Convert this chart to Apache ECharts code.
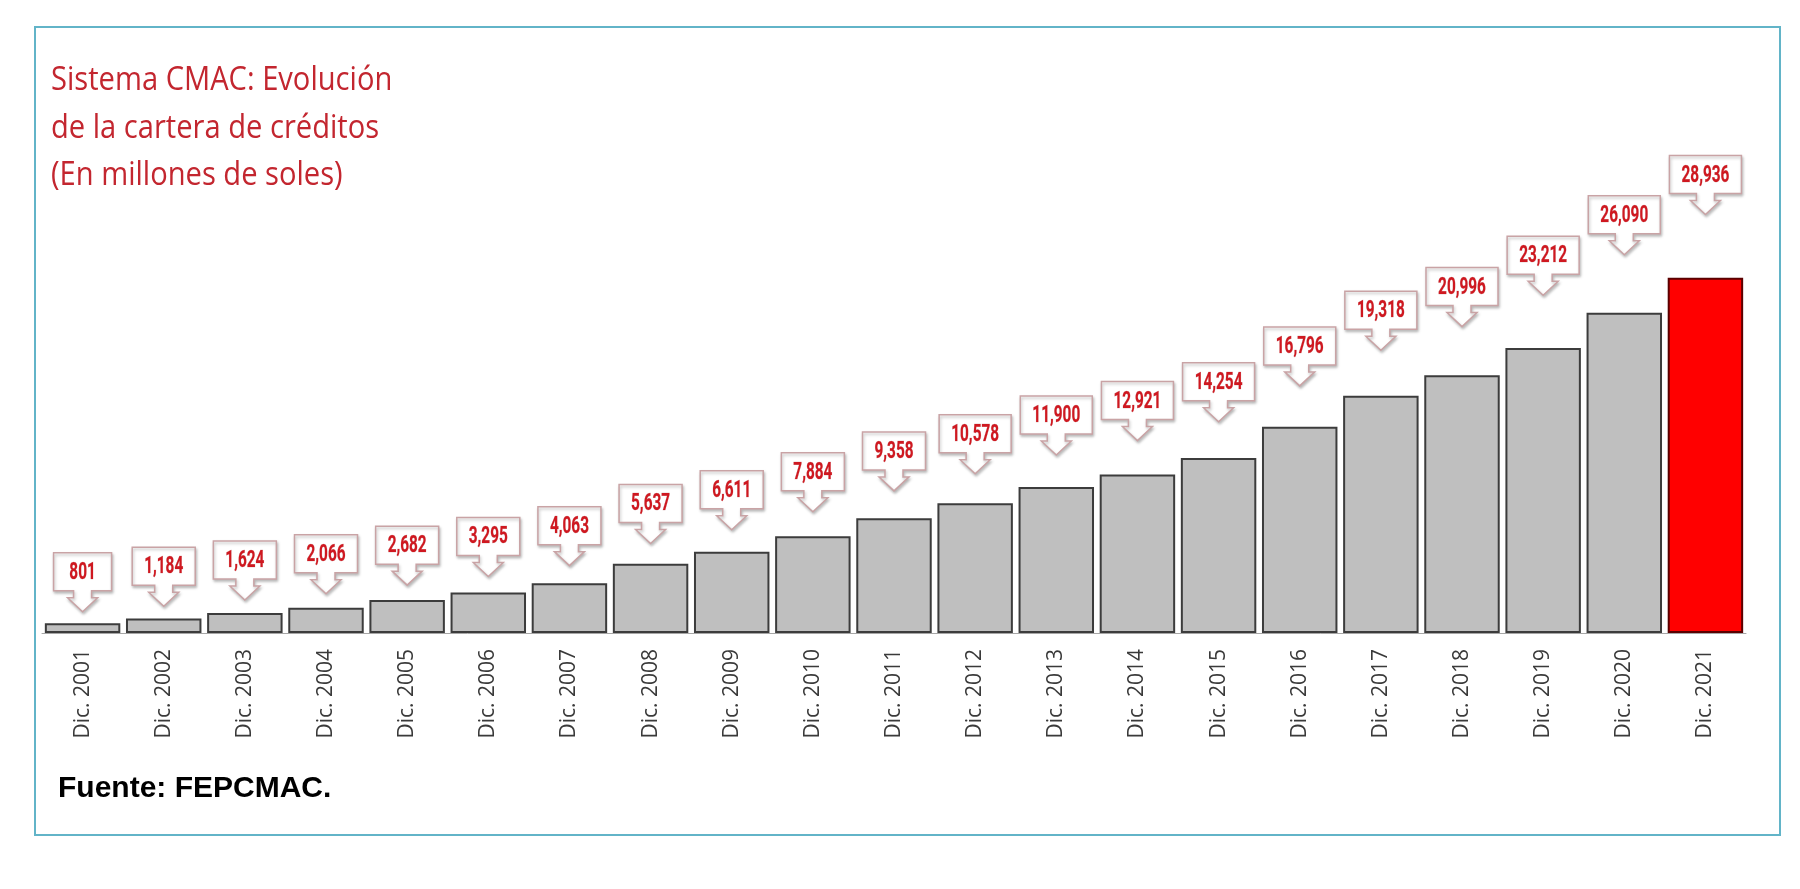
<!DOCTYPE html>
<html>
<head>
<meta charset="utf-8">
<title>Sistema CMAC: Evolución de la cartera de créditos</title>
<script src="https://cdn.jsdelivr.net/npm/echarts@6/dist/echarts.min.js"></script>
<style>
  html, body { margin: 0; padding: 0; background: #fff; }
  #chart { width: 1800px; height: 889px; }
</style>
</head>
<body>
<div id="chart"></div>
<script>
// categorias (diciembre de cada año)
var categories = ['Dic. 2001', 'Dic. 2002', 'Dic. 2003', 'Dic. 2004', 'Dic. 2005', 'Dic. 2006', 'Dic. 2007',
  'Dic. 2008', 'Dic. 2009', 'Dic. 2010', 'Dic. 2011', 'Dic. 2012', 'Dic. 2013', 'Dic. 2014',
  'Dic. 2015', 'Dic. 2016', 'Dic. 2017', 'Dic. 2018', 'Dic. 2019', 'Dic. 2020', 'Dic. 2021'];
// cartera de créditos, millones de soles
var cartera = [801, 1184, 1624, 2066, 2682, 3295, 4063, 5637, 6611, 7884, 9358, 10578,
  11900, 12921, 14254, 16796, 19318, 20996, 23212, 26090, 28936];
// año resaltado en rojo
var resaltado = 'Dic. 2021';
// título en tres líneas
var titulo = ['Sistema CMAC: Evolución', 'de la cartera de créditos', '(En millones de soles)'];
var fuente = 'Fuente: FEPCMAC.';

var chart = echarts.init(document.getElementById('chart'));

// globo con flecha encima de cada barra
function renderCallout(params, api) {
  var i = api.value(0);
  var v = api.value(1);
  var p = api.coord([i, v * 1.15]);
  var cx = p[0];
  var tip = p[1] - 10;
  var txt = v.toLocaleString('en-US');
  var w = Math.max(58, 18 + 9 * txt.length);
  var h = 38;
  var headH = 14, stemH = 7, stemW = 18, headW = 30;
  var b = tip - headH - stemH;
  var t = b - h;
  var l = cx - w / 2, r = cx + w / 2;
  var pts = [
    [l, t], [r, t], [r, b], [cx + stemW / 2, b], [cx + stemW / 2, b + stemH],
    [cx + headW / 2, b + stemH], [cx, tip], [cx - headW / 2, b + stemH],
    [cx - stemW / 2, b + stemH], [cx - stemW / 2, b], [l, b]
  ];
  return {
    type: 'group',
    children: [{
      type: 'polygon',
      shape: { points: pts },
      style: {
        fill: '#ffffff',
        stroke: '#c9a3a5',
        lineWidth: 1.5,
        shadowBlur: 3,
        shadowOffsetX: 1,
        shadowOffsetY: 2,
        shadowColor: 'rgba(0,0,0,0.25)'
      }
    }, {
      type: 'text',
      x: cx,
      y: t + h / 2 + 1,
      scaleX: 0.64,
      style: {
        text: txt,
        fill: '#cf1820',
        stroke: 'rgba(120,0,0,0.35)',
        lineWidth: 0.6,
        font: 'bold 24px Roboto, sans-serif',
        align: 'center',
        verticalAlign: 'middle'
      }
    }]
  };
}

var graficos = [{
  type: 'rect',
  shape: { x: 35, y: 27, width: 1745, height: 808 },
  style: { fill: 'none', stroke: '#62b4c8', lineWidth: 2 },
  silent: true
}];
titulo.forEach(function (linea, k) {
  graficos.push({
    type: 'text',
    x: 51,
    y: 81 + k * 47.5,
    scaleX: 0.91,
    silent: true,
    style: {
      text: linea,
      fill: '#c3262f',
      font: '32px "Open Sans", sans-serif',
      align: 'left',
      verticalAlign: 'middle'
    }
  });
});
graficos.push({
  type: 'text',
  x: 58,
  y: 789,
  silent: true,
  style: {
    text: fuente,
    fill: '#000000',
    font: 'bold 30px "Liberation Sans", Arial, sans-serif',
    align: 'left',
    verticalAlign: 'middle'
  }
});

var option = {
  animation: false,
  graphic: graficos,
  grid: { left: 42, right: 54, top: 142, bottom: 256 },
  xAxis: {
    type: 'category',
    data: categories,
    axisTick: { show: false },
    axisLine: { lineStyle: { color: '#a6a6a6', width: 1 } },
    axisLabel: {
      rotate: 90,
      margin: 16,
      fontSize: 21,
      color: '#3a3a3a',
      fontFamily: "'Open Sans', sans-serif"
    }
  },
  yAxis: {
    type: 'value',
    min: 0,
    max: 40000,
    show: false,
    splitLine: { show: false }
  },
  series: [{
    type: 'bar',
    barWidth: '93%',
    data: cartera.map(function (v, i) {
      if (categories[i] === resaltado) {
        return { value: v, itemStyle: { color: '#ff0000', borderColor: '#5a0000' } };
      }
      return v;
    }),
    itemStyle: { color: '#bfbfbf', borderColor: '#3c3c3c', borderWidth: 2 }
  }, {
    type: 'custom',
    renderItem: renderCallout,
    data: cartera.map(function (v, i) { return [i, v]; }),
    z: 5
  }]
};

chart.setOption(option);
</script>
</body>
</html>
